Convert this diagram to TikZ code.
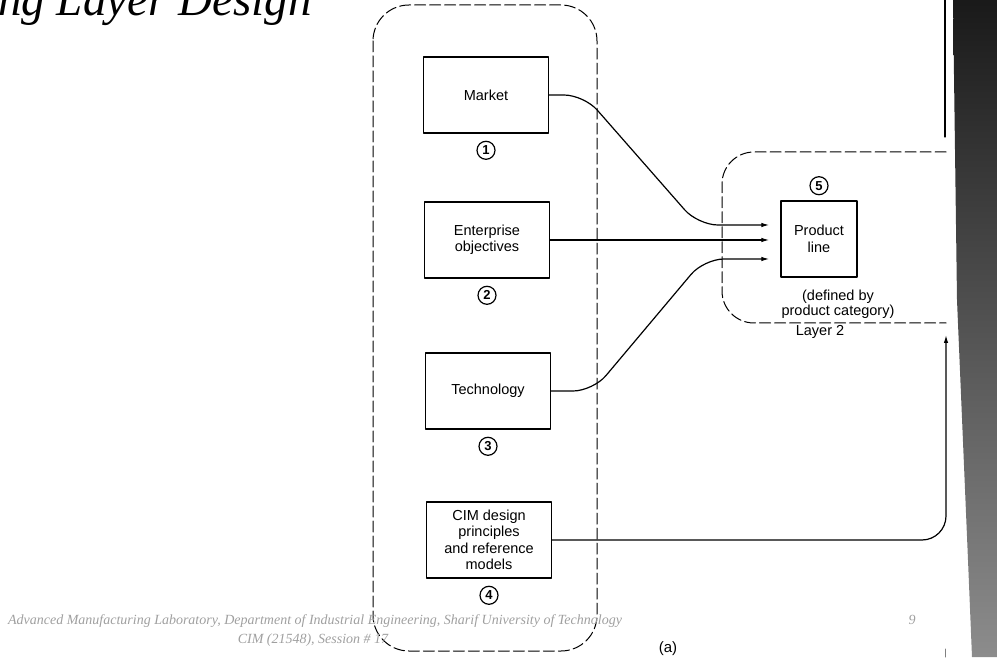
\documentclass[tikz,border=0pt]{standalone}
\usepackage{fontspec}
\setmainfont{Liberation Serif}
\setsansfont{Liberation Sans}
\usetikzlibrary{arrows.meta,calc,positioning}

\tikzset{
  blk/.style={draw, line width=1.4pt, minimum width=125pt, minimum height=76pt,
    align=center, font=\fontsize{14.5}{16.5}\selectfont\sffamily},
  circnum/.style={circle, draw, line width=1.2pt, minimum size=18pt, inner sep=0pt,
    font=\fontsize{13}{13}\selectfont\sffamily\bfseries},
  zone/.style={dash pattern=on 11pt off 4pt, line width=1pt},
  feed/.style={line width=1.2pt, -{Latex[length=8pt,width=4.5pt]}, rounded corners=20pt},
  lbl/.style={font=\fontsize{14.5}{15}\selectfont\sffamily, align=center},
  foot/.style={text=gray!75, font=\fontsize{14}{16}\selectfont\itshape}
}

\begin{document}
\begin{tikzpicture}[x=1pt, y=1pt, line cap=round, line join=round]
  \useasboundingbox (0,0) rectangle (997,657);

  % slide band and title
  \shade[top color=black!90, bottom color=black!45]
    (953,657) -- (957,357) -- (968,97) -- (972,0) -- (997,0) -- (997,657) -- cycle;
  \node[anchor=base west, inner sep=0pt, font=\fontsize{47}{47}\selectfont\itshape]
    (title) at (-2,641) {ng Layer Design};

  % dashed zones
  \draw[zone, rounded corners=36pt] (373,652) rectangle (597,6);
  \draw[zone, rounded corners=32pt] (946,505) -- (722,505) -- (722,334) -- (946,334);

  % inputs
  \node[blk] (mkt) at (486,562) {Market};
  \node[blk] (ent) at (487,417) {Enterprise\\objectives};
  \node[blk] (tec) at (488,266) {Technology};
  \node[blk] (cim) at (489,117) {CIM design\\principles\\and reference\\models};

  \node[circnum, below=7pt of mkt] (n1) {1};
  \node[circnum, below=7pt of ent] (n2) {2};
  \node[circnum, below=7pt of tec] (n3) {3};
  \node[circnum, below=7pt of cim] (n4) {4};

  % layer 2
  \node[blk, minimum width=76pt] (pl) at (819,418) {Product\\line};
  \node[circnum, above=5pt of pl] (n5) {5};
  \node[lbl] (def) at (838,353) {(defined by\\product category)};
  \node[lbl] (lay) at (820,325) {Layer 2};
  \node[lbl, font=\fontsize{15}{15}\selectfont\sffamily] (fig) at (668,8) {(a)};

  \coordinate (in1) at ($(pl.west)+(-11,14)$);
  \coordinate (in2) at ($(pl.west)+(-11,-1)$);
  \coordinate (in3) at ($(pl.west)+(-11,-20)$);
  \coordinate (up) at (946,322);

  \draw[feed] (mkt.east) -- (584,562) -- (698,432) -- (in1);
  \draw[feed] (ent.east) -- (in2);
  \draw[feed] (tec.east) -- (593,266) -- (704,398) -- (in3);
  \draw[feed, rounded corners=24pt] (cim.east) -| (up);

  \draw[line width=1.3pt] (945,657) -- (945,520);
  \draw[line width=1pt, gray] (945,0) -- (945,8);

  % footer
  \node[foot] (ft1) at (315,36) {Advanced Manufacturing Laboratory, Department of Industrial Engineering, Sharif University of Technology};
  \node[foot] (ft2) at (313,17) {CIM (21548), Session \# 17};
  \node[foot] (pg) at (912,37) {9};
\end{tikzpicture}
\end{document}
